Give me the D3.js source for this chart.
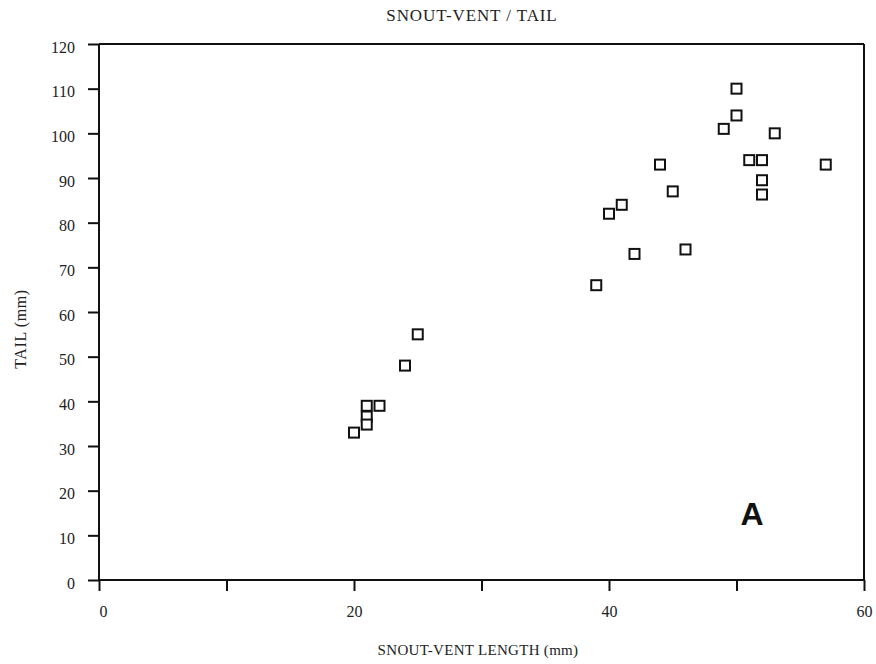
<!DOCTYPE html>
<html><head><meta charset="utf-8">
<script src="https://cdn.jsdelivr.net/npm/d3@7"></script>
<style>body{margin:0;background:#fff}</style>
</head><body>
<script>
const snoutVent = [20,21,21,21,22,24,25,39,40,41,42,44,45,46,49,50,50,51,52,52,52,53,57];
const tail      = [33,39,36.6,34.8,39,48,55,66,82,84,73,93,87,74,101,110,104,94,94,89.5,86.3,100,93];
const xTicks = [0,10,20,30,40,50,60];
const xTickLabels = [0,20,40,60];
const yTicks = [0,10,20,30,40,50,60,70,80,90,100,110,120];

const W=876,H=664;
const svg=d3.select("body").append("svg").attr("width",W).attr("height",H);
const x=d3.scaleLinear().domain([0,60]).range([99,864]);
const y=d3.scaleLinear().domain([0,120]).range([580,44]);
const font="'Liberation Serif','Times New Roman',serif";

// frame top & right
svg.append("line").attr("x1",x(0)).attr("x2",x(60)).attr("y1",y(120)).attr("y2",y(120)).attr("stroke","#111").attr("stroke-width",2);
svg.append("line").attr("x1",x(60)).attr("x2",x(60)).attr("y1",y(120)).attr("y2",y(0)).attr("stroke","#111").attr("stroke-width",2);

const xa=svg.append("g").attr("transform",`translate(0,${y(0)})`)
  .call(d3.axisBottom(x).tickValues(xTicks).tickSize(11).tickFormat(d=>xTickLabels.includes(d)?d:""));
const ya=svg.append("g").attr("transform",`translate(${x(0)},0)`)
  .call(d3.axisLeft(y).tickValues(yTicks).tickSize(11));
[xa,ya].forEach(g=>{
  g.select(".domain").attr("stroke","#111").attr("stroke-width",2);
  g.selectAll(".tick line").attr("stroke","#111").attr("stroke-width",2);
  g.selectAll("text").attr("font-family",font).attr("font-size",16).attr("fill","#222");
});
ya.select(".domain").attr("d",`M0,${y(120)}V${y(0)}`);
xa.select(".domain").attr("d",`M${x(0)},0H${x(60)}`);
xa.selectAll(".tick text").attr("y",26).attr("dy","0.71em").attr("dx",d=>d===0?4:0);
ya.selectAll(".tick text").attr("x",-24).attr("dy","0.5em");

svg.append("g").selectAll("rect").data(snoutVent.map((d,i)=>[d,tail[i]])).join("rect")
  .attr("x",d=>x(d[0])-5).attr("y",d=>y(d[1])-5).attr("width",10).attr("height",10)
  .attr("fill","#fff").attr("stroke","#111").attr("stroke-width",2);

svg.append("text").attr("x",472).attr("y",21).attr("text-anchor","middle")
  .attr("font-family",font).attr("font-size",17).attr("letter-spacing",0.9).attr("fill","#222").text("SNOUT-VENT / TAIL");
svg.append("text").attr("x",478).attr("y",655).attr("text-anchor","middle")
  .attr("font-family",font).attr("font-size",15).attr("letter-spacing",0.3).attr("fill","#222").text("SNOUT-VENT LENGTH (mm)");
svg.append("text").attr("transform","translate(26,329) rotate(-90)").attr("text-anchor","middle")
  .attr("font-family",font).attr("font-size",16).attr("letter-spacing",0.6).attr("fill","#222").text("TAIL (mm)");
svg.append("text").attr("x",752).attr("y",525).attr("text-anchor","middle")
  .attr("font-family","'Liberation Sans',Arial,sans-serif").attr("font-weight","bold").attr("font-size",32).attr("fill","#111").text("A");
</script>
</body></html>
